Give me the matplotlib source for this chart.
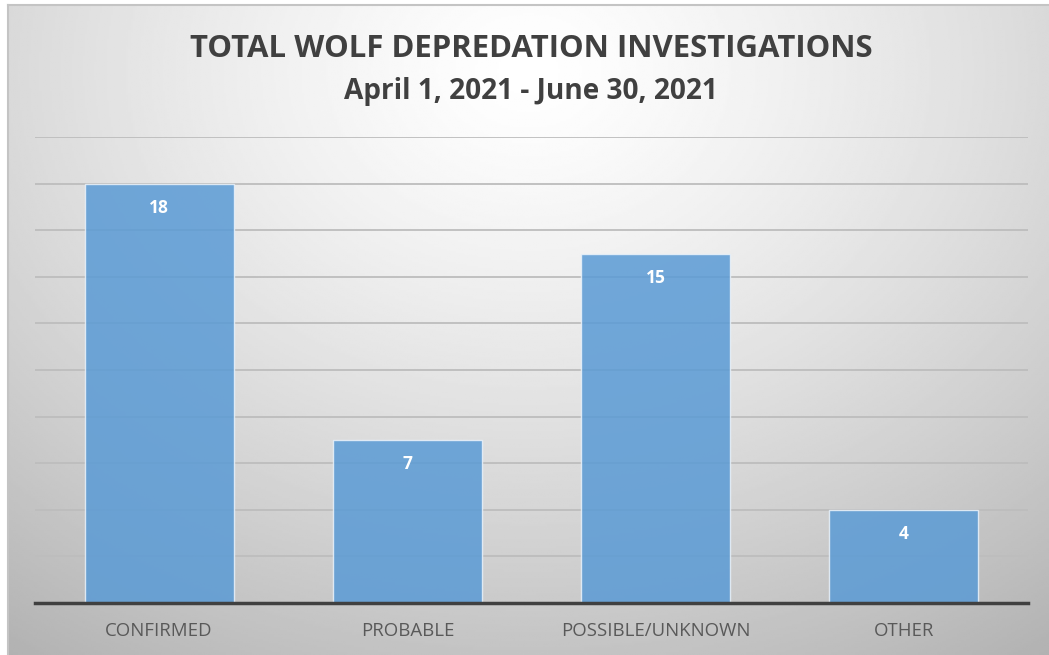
import numpy as np
import matplotlib.pyplot as plt

categories = ['CONFIRMED', 'PROBABLE', 'POSSIBLE/UNKNOWN', 'OTHER']
counts = [18, 7, 15, 4]
title = 'TOTAL WOLF DEPREDATION INVESTIGATIONS'
subtitle = 'April 1, 2021 - June 30, 2021'

plt.rcParams['font.family'] = ['Open Sans', 'DejaVu Sans']

W, H = 1049, 655
fig = plt.figure(figsize=(W / 100, H / 100), dpi=100)

# background panel with radial gradient
bg = fig.add_axes([8 / W, 0, 1 - 8 / W, (H - 5) / H])
yy, xx = np.mgrid[0:1:300j, 0:1:480j]
r = np.sqrt(((xx - 0.5) / 0.75) ** 2 + ((yy - 0.1) / 0.95) ** 2)
shade = 1.0 - 0.25 * np.clip(r, 0, 1.2) ** 1.3
bg.imshow(shade, cmap='gray', vmin=0, vmax=1, aspect='auto', extent=[0, 1, 1, 0])
bg.set_xticks([])
bg.set_yticks([])
for s in ['right', 'bottom']:
    bg.spines[s].set_visible(False)
for s in ['top', 'left']:
    bg.spines[s].set_color('#c4c4c4')
    bg.spines[s].set_linewidth(1.5)

ax = fig.add_axes([35 / W, (H - 603) / H, (1028 - 35) / W, (603 - 137) / H])
ax.patch.set_alpha(0)
x = np.arange(len(categories))
bars = ax.bar(x, counts, width=0.6, color='#5b9bd5', alpha=0.86,
              edgecolor='#eaf2fa', linewidth=1, zorder=2)
ax.set_xlim(-0.5, len(categories) - 0.5)
ax.set_ylim(0, 20)
ax.set_yticks(np.arange(2, 21, 2))
ax.yaxis.grid(True, color='#bdbdbd', linewidth=1.3, zorder=1)
ax.set_axisbelow(True)
ax.tick_params(axis='y', length=0, labelleft=False)
ax.tick_params(axis='x', length=0, pad=14, labelsize=13.4, labelcolor='#595959')
ax.set_xticks(x)
ax.set_xticklabels(categories)
for s in ['top', 'right', 'left']:
    ax.spines[s].set_visible(False)
ax.spines['bottom'].set_color('#404040')
ax.spines['bottom'].set_linewidth(2.5)
ax.spines['bottom'].set_zorder(3)

for b, v in zip(bars, counts):
    ax.annotate(str(v), (b.get_x() + b.get_width() / 2, v), xytext=(0, -17.5),
                textcoords='offset points', ha='center', va='center',
                color='white', fontsize=12.5, fontweight='bold', zorder=4)

fig.text(531 / W, 1 - 49 / H, title, ha='center', va='center',
         fontsize=22.4, fontweight='bold', color='#404040')
fig.text(531 / W, 1 - 92 / H, subtitle, ha='center', va='center',
         fontsize=20.2, fontweight='bold', color='#404040')

fig.savefig('out.png', dpi=100)
